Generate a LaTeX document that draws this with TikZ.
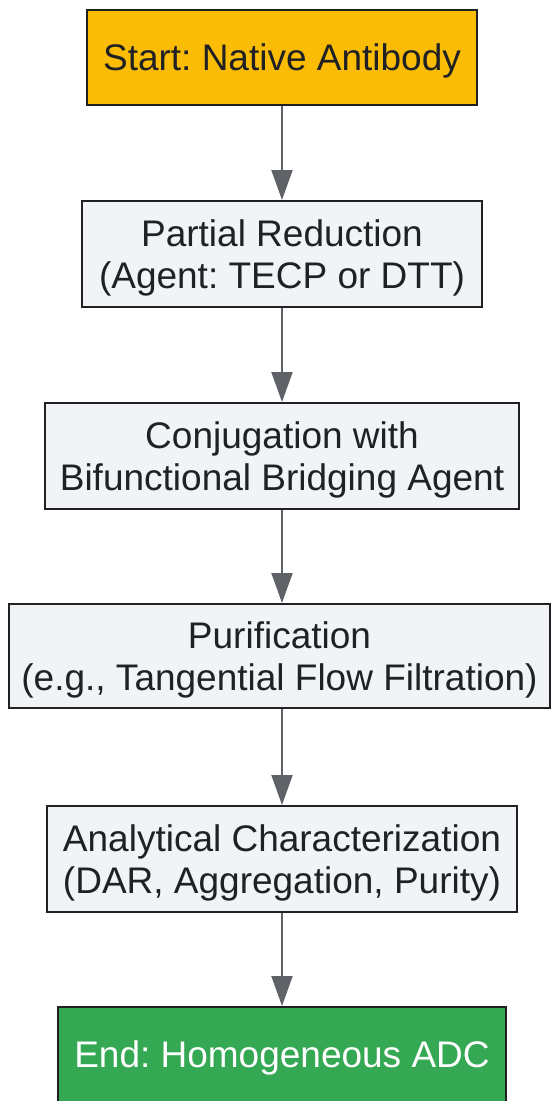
\documentclass[tikz,border=0pt]{standalone}
\usepackage{fontspec}
\setmainfont{Liberation Sans}
\usetikzlibrary{arrows.meta}

\definecolor{startfill}{HTML}{FBBC05}
\definecolor{endfill}{HTML}{34A853}
\definecolor{stepfill}{HTML}{F1F3F4}
\definecolor{boxline}{HTML}{202124}
\definecolor{arrowgrey}{HTML}{5F6368}

\tikzset{
    flowbox/.style={draw=boxline, line width=2pt, align=center, inner sep=0pt,
        text=boxline, text depth=0pt, font=\fontsize{37}{42.5}\selectfont\frenchspacing},
    stepbox/.style={flowbox, fill=stepfill, minimum height=106pt},
    flowarrow/.style={draw=arrowgrey, line width=2pt, -{Triangle[length=30pt, width=21pt]}}
}

\begin{document}
\begin{tikzpicture}[x=1pt, y=1pt]
        \useasboundingbox (0,0) rectangle (550,-1101);

        \node[flowbox, fill=startfill, minimum width=390pt, minimum height=95pt] (start) at (282,-57.5) {Start: Native Antibody};
        \node[stepbox, minimum width=400pt] (reduce) at (282,-254) {Partial Reduction\\(Agent: TECP or DTT)};
        \node[stepbox, minimum width=474pt] (conj) at (282,-456) {Conjugation with\\Bifunctional Bridging Agent};
        \node[stepbox, minimum width=541pt, minimum height=104pt] (purify) at (279.5,-656) {Purification\\(e.g., Tangential Flow Filtration)};
        \node[stepbox, minimum width=470pt] (analyse) at (282,-859) {Analytical Characterization\\(DAR, Aggregation, Purity)};
        \node[flowbox, fill=endfill, text=white, minimum width=448pt, minimum height=95pt] (finish) at (282,-1054.5) {End: Homogeneous ADC};

        %arrows
        \draw[flowarrow] (start) -- (reduce);
        \draw[flowarrow] (reduce) -- (conj);
        \draw[flowarrow] (conj) -- (purify.north -| conj.south);
        \draw[flowarrow] (purify.south -| analyse.north) -- (analyse);
        \draw[flowarrow] (analyse) -- (finish);
    \end{tikzpicture}
\end{document}
